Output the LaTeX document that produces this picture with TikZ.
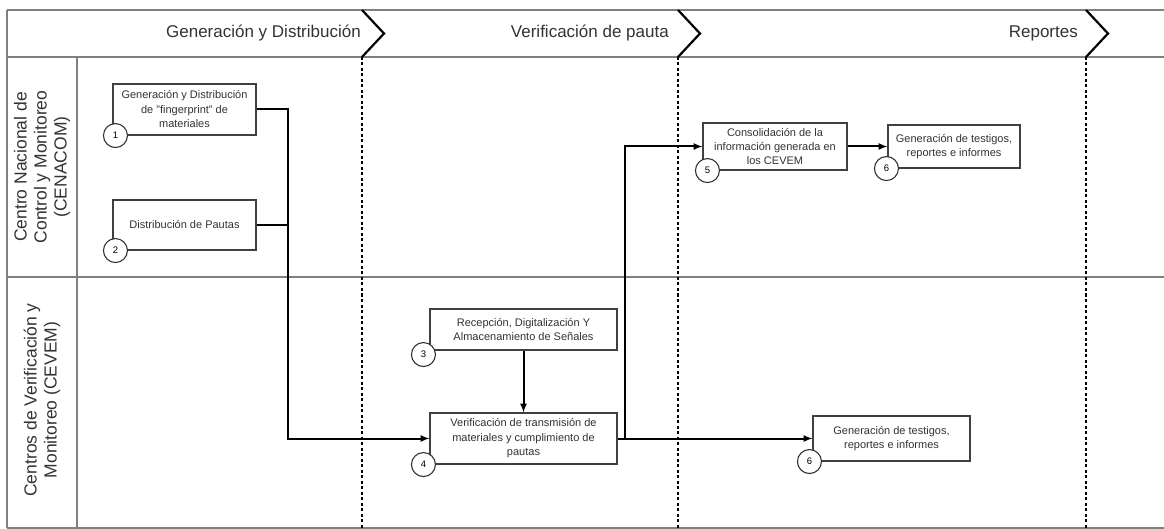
\documentclass[tikz,border=0pt]{standalone}
\usepackage{fontspec}
\setmainfont{Liberation Sans}
\usetikzlibrary{arrows,positioning,calc}

\begin{document}
\begin{tikzpicture}[x=1pt,y=-1pt]
\tikzstyle{task}=[rectangle, draw=black!75, line width=1.1pt, fill=white, align=center, inner sep=2pt, text=black!80, font=\fontsize{11}{14.5}\selectfont]
\tikzstyle{num}=[circle, draw=black!80, line width=1.1pt, fill=white, minimum size=24pt, inner sep=0pt, font=\fontsize{9.5}{9.5}\selectfont]
\tikzstyle{connect}=[-latex, line width=2pt]
\tikzstyle{frame}=[draw=black!50, line width=1.5pt]
\tikzstyle{phase}=[line width=2.2pt, black]
\tikzstyle{gate}=[line width=2.2pt, dash pattern=on 3pt off 2.5pt, black]
\tikzstyle{head}=[anchor=east, inner sep=0pt, text=black!80, font=\fontsize{17}{20}\selectfont]
\tikzstyle{lane}=[rotate=90, align=center, text=black!80, font=\fontsize{17.5}{20}\selectfont]
  \useasboundingbox (0,0) rectangle (1164,529);
  % swimlane frame
  \draw[frame] (7,10) -- (1164,10);
  \draw[frame] (7,57) -- (1164,57);
  \draw[frame] (7,277) -- (1164,277);
  \draw[frame] (7,528) -- (1164,528);
  \draw[frame] (7,10) -- (7,528);
  \draw[frame] (77,57) -- (77,528);
  % phases
  \draw[phase] (362,10) -- (384,33.5) -- (362,57);
  \draw[gate] (362,57) -- (362,528);
  \draw[phase] (678,10) -- (700,33.5) -- (678,57);
  \draw[gate] (678,57) -- (678,528);
  \draw[phase] (1086,10) -- (1108,33.5) -- (1086,57);
  \draw[gate] (1086,57) -- (1086,528);
  \node[head] (ph1) at (361,33.5) {Generación y Distribución};
  \node[head] (ph2) at (669,33.5) {Verificación de pauta};
  \node[head] (ph3) at (1078,33.5) {Reportes};
  % lanes
  \node[lane] (cenacom) at (42,167) {Centro Nacional de\\Control y Monitoreo\\(CENACOM)};
  \node[lane] (cevem) at (42,400) {Centros de Verificación y\\Monitoreo (CEVEM)};
  % tasks
  \node[task, minimum width=143pt, minimum height=51pt] (gen) at (184.5,109.5) {Generación y Distribución\\de "fingerprint" de\\materiales};
  \node[task, minimum width=143pt, minimum height=50pt] (dist) at (184.5,225) {Distribución de Pautas};
  \node[task, minimum width=187pt, minimum height=41pt] (rec) at (523.5,329.5) {Recepción, Digitalización Y\\Almacenamiento de Señales};
  \node[task, minimum width=187pt, minimum height=51pt] (ver) at (523.5,438.5) {Verificación de transmisión de\\materiales y cumplimiento de\\pautas};
  \node[task, minimum width=144pt, minimum height=47pt, font=\fontsize{11}{14}\selectfont] (cons) at (775,146.5) {Consolidación de la\\información generada en\\los CEVEM};
  \node[task, minimum width=132pt, minimum height=43pt] (rep1) at (954,146.5) {Generación de testigos,\\reportes e informes};
  \node[task, minimum width=157pt, minimum height=45pt] (rep2) at (891.5,438.5) {Generación de testigos,\\reportes e informes};
  \node[num] (n1) at ([xshift=3pt]gen.south west) {1};
  \node[num] (n2) at ([xshift=3pt]dist.south west) {2};
  \node[num] (n3) at ([xshift=-6pt,yshift=-4pt]rec.south west) {3};
  \node[num] (n4) at ([xshift=-6pt]ver.south west) {4};
  \node[num] (n5) at ([xshift=5pt]cons.south west) {5};
  \node[num] (n6) at ([xshift=-1pt]rep1.south west) {6};
  \node[num] (n7) at ([xshift=-3pt]rep2.south west) {6};
  % flows
  \coordinate (join) at (288,0);
  \coordinate (fork) at (625,0);
  \draw[connect] (gen.east) -| (join |- ver.west) -- (ver.west);
  \draw[line width=2pt] (dist.east) -- (dist.east -| join);
  \draw[connect] (rec.south) -- (ver.north);
  \draw[connect] (ver.east) -- (ver.east -| fork) |- (cons.west);
  \draw[connect] (ver.east) -- (rep2.west);
  \draw[connect] (cons.east) -- (rep1.west);
\end{tikzpicture}
\end{document}
